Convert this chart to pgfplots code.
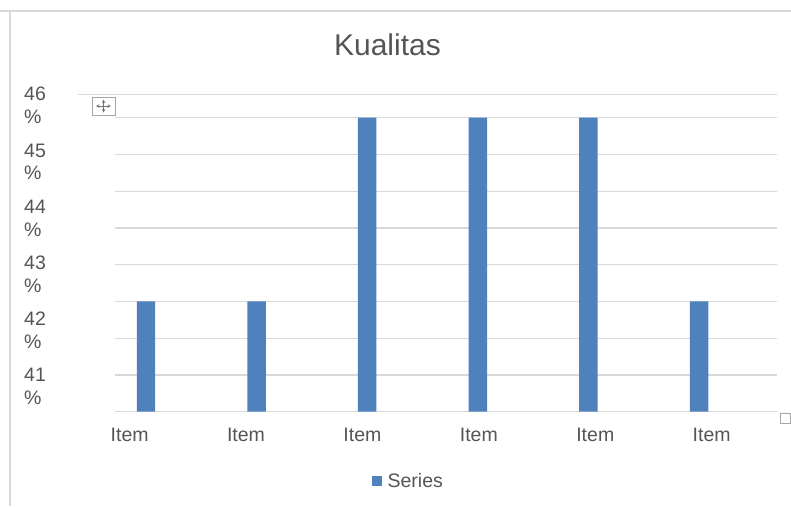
\documentclass[border=0pt]{standalone}
\usepackage{fontspec}
\setmainfont{Liberation Sans}
\usepackage{pgfplots}
\pgfplotsset{compat=1.18}
\definecolor{txt}{HTML}{555555}
\definecolor{barblue}{HTML}{4F81BD}
\definecolor{grd}{HTML}{D9D9D9}
\begin{document}
\begin{tikzpicture}[x=1pt,y=1pt]
\useasboundingbox[fill=white] (0,0) rectangle (791,-506);
\draw[grd, line width=1.5pt] (0,-11) -- (791,-11);
\draw[grd, line width=1.5pt] (10,-11) -- (10,-506);
\begin{axis}[
  at={(115pt,-411.7pt)}, anchor=south west, scale only axis,
  width=662pt, height=317.4pt,
  xmin=-0.2803, xmax=5.705, ymin=40.555, ymax=46.2,
  axis line style={draw=none},
  major tick length=0pt,
  xtick={-0.148,0.904,1.957,3.009,4.062,5.114},
  xticklabels={Item,Item,Item,Item,Item,Item},
  xticklabel style={anchor=north, inner sep=0pt, yshift=-16.3pt,
    font=\fontsize{19.5}{22.7}\selectfont, text=txt},
  ytick={41,42,43,44,45,46},
  yticklabels={{41\\\%},{42\\\%},{43\\\%},{44\\\%},{45\\\%},{46\\\%}},
  yticklabel style={anchor=west, align=left, inner sep=0pt, xshift=-91pt,
    font=\fontsize{19.5}{22.7}\selectfont, text=txt},
  extra y ticks={40.555,41.209,41.862,42.516,43.169,43.823,44.476,45.130,45.783},
  extra y tick labels={},
  extra y tick style={grid=major, major grid style={grd, line width=1.2pt}},
  title={Kualitas},
  title style={at={(0.4116,1.1027)}, anchor=base,
    font=\fontsize{30}{36}\selectfont, text=txt},
  legend style={at={(0.443,-0.218)}, anchor=center, draw=none,
    inner sep=0pt, font=\fontsize{19.5}{22.7}\selectfont, text=txt},
  legend image code/.code={\fill[barblue] (0pt,-5pt) rectangle (10pt,5pt);
    \path (14pt,0pt);},
]
\addplot[ybar, bar width=0.167, fill=barblue, draw=none]
  coordinates {(0,42.516) (1,42.516) (2,45.783) (3,45.783) (4,45.783) (5,42.516)};
\addlegendentry{Series}
\end{axis}
\draw[grd, line width=1.2pt] (78,-94.3) -- (777,-94.3);
\draw[gray!70, fill=white, line width=0.8pt] (92,-97) rectangle (115,-115);
\draw[gray!90!black, line width=0.6pt, <->, >=stealth] (96,-106) -- (111,-106);
\draw[gray!90!black, line width=0.6pt, <->, >=stealth] (103.5,-99.5) -- (103.5,-112.5);
\draw[gray!70, fill=white, line width=0.8pt] (780,-413) rectangle (790,-423);
\end{tikzpicture}
\end{document}
